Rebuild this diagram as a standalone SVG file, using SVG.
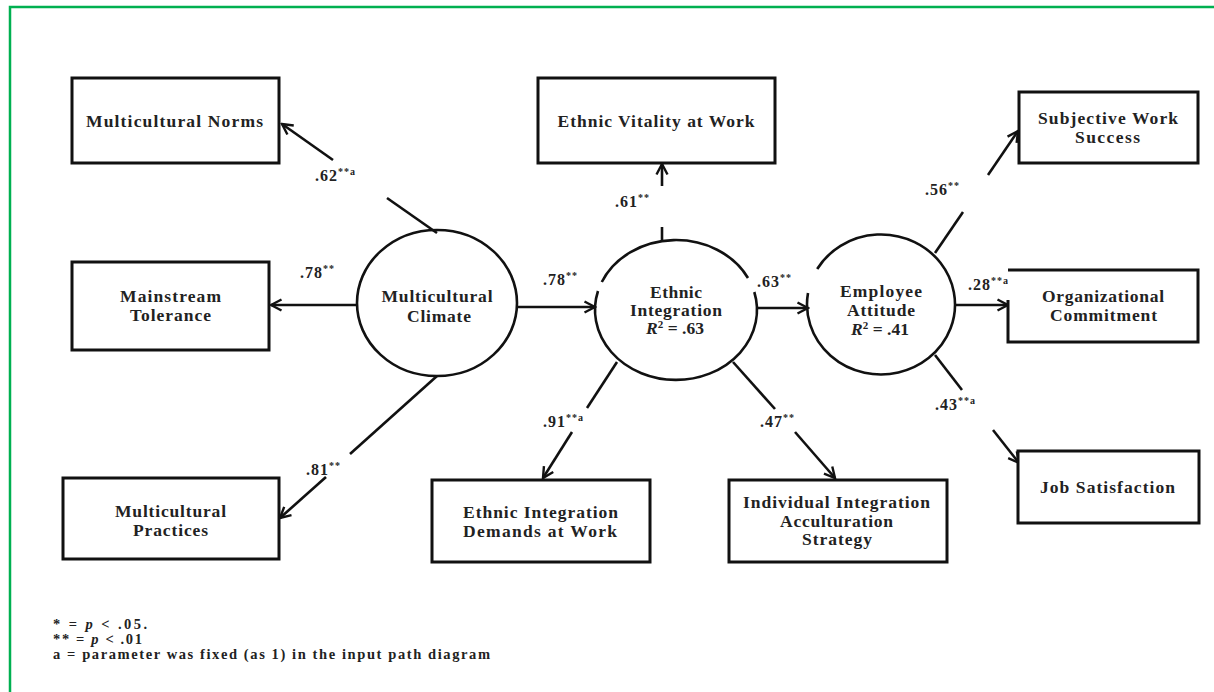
<svg xmlns="http://www.w3.org/2000/svg" width="1214" height="692" viewBox="0 0 1214 692">
<style>
.box{fill:#fff;stroke:#111;stroke-width:3}
.lat{fill:none;stroke:#111;stroke-width:2.6}
.ln{fill:none;stroke:#111;stroke-width:2.6}
.t{font-family:"Liberation Serif","Times New Roman",serif;font-weight:bold;font-size:17.5px;fill:#222;text-anchor:middle}
.e{font-family:"Liberation Serif","Times New Roman",serif;font-weight:bold;font-size:16px;fill:#222;letter-spacing:1px}
.f{font-family:"Liberation Serif","Times New Roman",serif;font-weight:bold;font-size:14.5px;fill:#222}
.sup{font-size:10px}
</style>
<defs>
<marker id="ah" viewBox="0 0 14 14" refX="12.5" refY="7" markerWidth="14" markerHeight="14" markerUnits="userSpaceOnUse" orient="auto">
<path d="M2,1.5 L12.5,7 L2,12.5" fill="none" stroke="#111" stroke-width="2.4"/>
</marker>
</defs>
<rect width="1214" height="692" fill="#fff"/>
<rect x="10" y="7" width="1212" height="692" fill="none" stroke="#00b050" stroke-width="2.5"/>

<g id="connectors">
<line class="ln" x1="437" y1="233" x2="387" y2="198"/>
<line class="ln" x1="333" y1="160" x2="282" y2="124" marker-end="url(#ah)"/>
<line class="ln" x1="357" y1="305" x2="271" y2="305" marker-end="url(#ah)"/>
<line class="ln" x1="437" y1="376" x2="350" y2="454"/>
<line class="ln" x1="326" y1="477" x2="280" y2="518" marker-end="url(#ah)"/>
<line class="ln" x1="518" y1="307" x2="595" y2="307" marker-end="url(#ah)"/>
<line class="ln" x1="662" y1="241" x2="662" y2="227"/>
<line class="ln" x1="662" y1="186" x2="662" y2="164" marker-end="url(#ah)"/>
<line class="ln" x1="617" y1="362" x2="587" y2="408"/>
<line class="ln" x1="572" y1="432" x2="543" y2="478" marker-end="url(#ah)"/>
<line class="ln" x1="733" y1="362" x2="775" y2="409"/>
<line class="ln" x1="795" y1="432" x2="835" y2="478" marker-end="url(#ah)"/>
<line class="ln" x1="757" y1="308" x2="808" y2="308" marker-end="url(#ah)"/>
<line class="ln" x1="935" y1="253" x2="963" y2="212"/>
<line class="ln" x1="988" y1="175" x2="1018" y2="131" marker-end="url(#ah)"/>
<line class="ln" x1="955" y1="305" x2="1008" y2="305" marker-end="url(#ah)"/>
<line class="ln" x1="935" y1="355" x2="962" y2="390"/>
<line class="ln" x1="993" y1="430" x2="1019" y2="463" marker-end="url(#ah)"/>
</g>

<g id="edge-labels">
<text class="e" x="315" y="181">.62<tspan class="sup" dy="-6">**a</tspan></text>
<text class="e" x="300" y="278">.78<tspan class="sup" dy="-6">**</tspan></text>
<text class="e" x="306" y="475">.81<tspan class="sup" dy="-6">**</tspan></text>
<text class="e" x="543" y="285">.78<tspan class="sup" dy="-6">**</tspan></text>
<text class="e" x="757" y="287">.63<tspan class="sup" dy="-6">**</tspan></text>
<text class="e" x="615" y="207">.61<tspan class="sup" dy="-6">**</tspan></text>
<text class="e" x="543" y="427">.91<tspan class="sup" dy="-6">**a</tspan></text>
<text class="e" x="760" y="427">.47<tspan class="sup" dy="-6">**</tspan></text>
<text class="e" x="925" y="195">.56<tspan class="sup" dy="-6">**</tspan></text>
<text class="e" x="968" y="290">.28<tspan class="sup" dy="-6">**a</tspan></text>
<text class="e" x="935" y="410">.43<tspan class="sup" dy="-6">**a</tspan></text>
</g>

<g id="multicultural-norms">
<rect class="box" x="72" y="78" width="207" height="85"/>
<text class="t" x="174.5" y="127" textLength="177" lengthAdjust="spacing">Multicultural  Norms</text>
</g>
<g id="mainstream-tolerance">
<rect class="box" x="72" y="262" width="197" height="88"/>
<text class="t" x="170.5" y="302" textLength="101" lengthAdjust="spacing">Mainstream</text>
<text class="t" x="170.5" y="321" textLength="81" lengthAdjust="spacing">Tolerance</text>
</g>
<g id="multicultural-practices">
<rect class="box" x="63" y="478" width="216" height="81"/>
<text class="t" x="170.5" y="517" textLength="111" lengthAdjust="spacing">Multicultural</text>
<text class="t" x="170.5" y="536" textLength="75" lengthAdjust="spacing">Practices</text>
</g>
<g id="multicultural-climate">
<ellipse class="lat" cx="437" cy="303" rx="80" ry="73"/>
<text class="t" x="437" y="302" textLength="111" lengthAdjust="spacing">Multicultural</text>
<text class="t" x="439" y="322" textLength="64" lengthAdjust="spacing">Climate</text>
</g>
<g id="ethnic-vitality">
<rect class="box" x="538" y="78" width="237" height="85"/>
<text class="t" x="656" y="127" textLength="197" lengthAdjust="spacing">Ethnic  Vitality  at Work</text>
</g>
<g id="ethnic-integration">
<path class="lat" d="M598,291 A81,70 0 1 0 754.3,292"/>
<path class="lat" d="M601.8,282 A81,70 0 0 1 748,278"/>
<text class="t" x="676" y="298" textLength="52" lengthAdjust="spacing">Ethnic</text>
<text class="t" x="676" y="316" textLength="92" lengthAdjust="spacing">Integration</text>
<text class="t" x="675" y="334"><tspan font-style="italic">R</tspan><tspan font-size="11" dy="-6">2</tspan><tspan dy="6"> = .63</tspan></text>
</g>
<g id="employee-attitude">
<path class="lat" d="M808,293 A74,70 0 1 0 817.2,269"/>
<text class="t" x="881" y="297" textLength="82" lengthAdjust="spacing">Employee</text>
<text class="t" x="881" y="316" textLength="68" lengthAdjust="spacing">Attitude</text>
<text class="t" x="880" y="335"><tspan font-style="italic">R</tspan><tspan font-size="11" dy="-6">2</tspan><tspan dy="6"> = .41</tspan></text>
</g>
<g id="ethnic-integration-demands">
<rect class="box" x="432" y="480" width="218" height="82"/>
<text class="t" x="540.5" y="518" textLength="155" lengthAdjust="spacing">Ethnic  Integration</text>
<text class="t" x="540" y="537" textLength="154" lengthAdjust="spacing">Demands  at Work</text>
</g>
<g id="individual-integration">
<rect class="box" x="729" y="480" width="218" height="82"/>
<text class="t" x="836.5" y="508" textLength="187" lengthAdjust="spacing">Individual  Integration</text>
<text class="t" x="836.5" y="527" textLength="113" lengthAdjust="spacing">Acculturation</text>
<text class="t" x="837" y="545" textLength="70" lengthAdjust="spacing">Strategy</text>
</g>
<g id="subjective-work-success">
<rect class="box" x="1019" y="92" width="179" height="71"/>
<text class="t" x="1108" y="124" textLength="140" lengthAdjust="spacing">Subjective Work</text>
<text class="t" x="1107.5" y="143" textLength="65" lengthAdjust="spacing">Success</text>
</g>
<g id="organizational-commitment">
<path class="box" d="M1008,300 L1008,342 L1198,342 L1198,270 L1008,270" fill="#fff"/>
<text class="t" x="1103" y="302" textLength="122" lengthAdjust="spacing">Organizational</text>
<text class="t" x="1103.5" y="321" textLength="107" lengthAdjust="spacing">Commitment</text>
</g>
<g id="job-satisfaction">
<rect class="box" x="1018" y="451" width="181" height="72"/>
<text class="t" x="1107.5" y="493" textLength="135" lengthAdjust="spacing">Job Satisfaction</text>
</g>

<g id="footnotes">
<text class="f" x="53" y="629" textLength="94" lengthAdjust="spacing">* = <tspan font-style="italic">p</tspan> &lt; .05.</text>
<text class="f" x="53" y="644" textLength="89" lengthAdjust="spacing">** = <tspan font-style="italic">p</tspan> &lt; .01</text>
<text class="f" x="53" y="659" textLength="437" lengthAdjust="spacing">a = parameter was fixed (as 1) in the input path diagram</text>
</g>
</svg>
